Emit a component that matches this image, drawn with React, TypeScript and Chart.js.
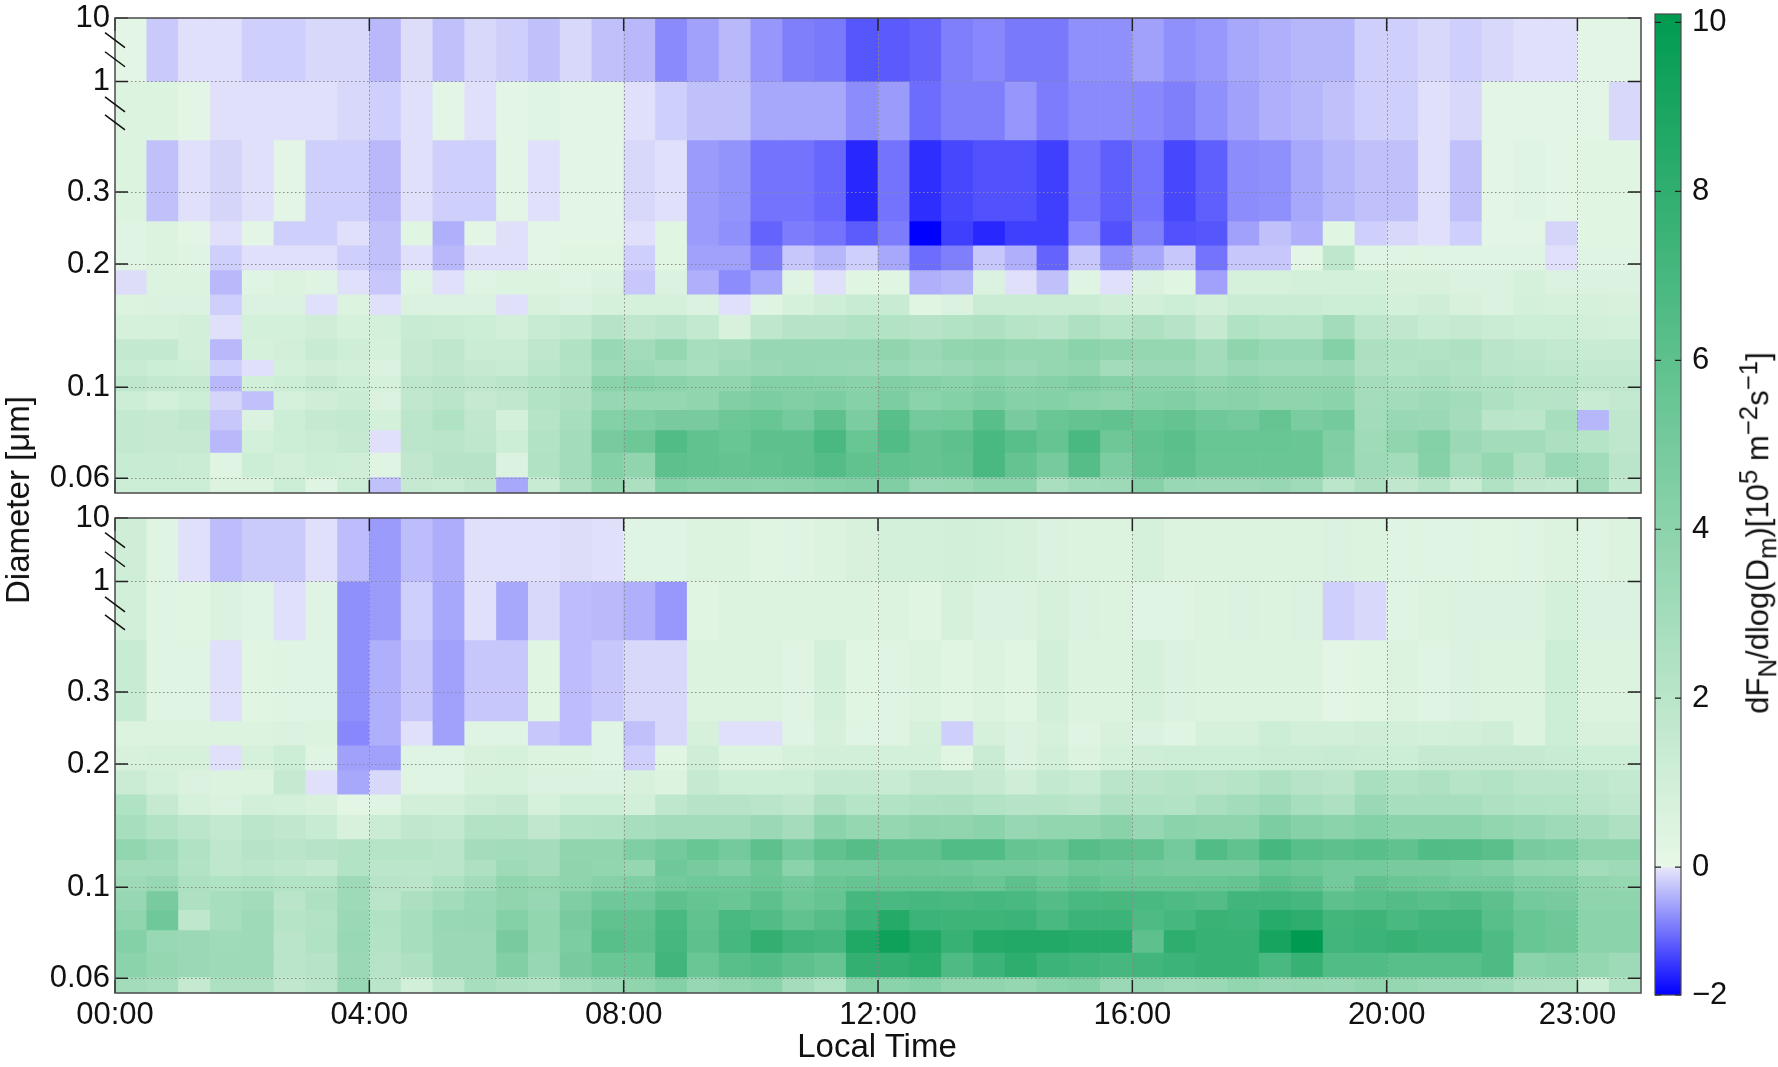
import { useEffect, useRef } from "react";
import Chart from "chart.js/auto";

const FONT = "'Liberation Sans', Arial, Helvetica, sans-serif";
const INK = "#111";

// diameter bin edges [µm], top row first; 0.4–1 and 1–10 µm sit on a broken axis
const DIAM_EDGES = [10, 1, 0.402, 0.255, 0.2225, 0.1936, 0.169, 0.1504, 0.1314, 0.1169, 0.1068, 0.098, 0.0882, 0.0787, 0.0694, 0.0604, 0.0552];
const DIAM_TICKS = [10, 1, 0.3, 0.2, 0.1, 0.06];
const HOUR_TICKS = [0, 4, 8, 12, 16, 20, 23];
const BIN_HOURS = 0.5;
const CBAR_TICKS = [10, 8, 6, 4, 2, 0, -2];
const CBAR_MIN = -2;
const CBAR_MAX = 10.1;

// flux dF/dlogD [1e5 m-2 s-1], one row per diameter bin, 48 half-hour columns
const TOP_PANEL = [
  [0.2, -0.25, -0.05, -0.05, -0.2, -0.2, -0.12, -0.12, -0.4, -0.08, -0.33, -0.12, -0.2, -0.33, -0.12, -0.33,
   -0.4, -0.8, -0.6, -0.4, -0.7, -0.9, -0.95, -1.25, -1.22, -1.13, -0.9, -0.82, -0.95, -0.95, -0.75, -0.75,
   -0.6, -0.75, -0.68, -0.55, -0.48, -0.42, -0.42, -0.2, -0.2, -0.12, -0.2, -0.12, -0.05, -0.05, 0.2, 0.2],
  [0.5, 0.5, 0.2, -0.05, -0.05, -0.05, -0.05, -0.12, -0.2, -0.05, 0.2, -0.05, 0.2, 0.4, 0.2, 0.2,
   -0.05, -0.2, -0.33, -0.33, -0.55, -0.55, -0.55, -0.78, -0.65, -1.05, -0.9, -0.9, -0.7, -0.92, -0.8, -0.8,
   -0.82, -0.9, -0.75, -0.6, -0.48, -0.42, -0.33, -0.2, -0.2, -0.05, -0.12, 0.2, 0.2, 0.2, 0.2, -0.12],
  [0.5, -0.33, -0.05, -0.15, -0.05, 0.2, -0.2, -0.2, -0.4, -0.05, -0.2, -0.2, 0.2, -0.05, 0.2, 0.2,
   -0.12, -0.05, -0.65, -0.72, -1.0, -1.0, -1.1, -1.65, -1.0, -1.6, -1.38, -1.3, -1.3, -1.45, -1.0, -1.17,
   -1.0, -1.38, -1.17, -0.78, -0.75, -0.55, -0.42, -0.33, -0.33, -0.05, -0.33, 0.2, 0.4, 0.2, 0.3, 0.3],
  [0.4, 0.5, 0.2, -0.05, 0.2, -0.2, -0.2, -0.05, -0.33, 0.3, -0.48, 0.2, -0.05, 0.2, 0.2, 0.2,
   -0.05, 0.3, -0.65, -0.75, -1.13, -0.92, -1.0, -1.2, -0.92, -2.0, -1.45, -1.65, -1.45, -1.45, -0.82, -1.3,
   -0.9, -1.3, -1.25, -0.6, -0.33, -0.48, 0.3, -0.2, -0.12, -0.05, -0.2, 0.2, 0.2, -0.15, 0.3, 0.3],
  [0.4, 0.5, 0.4, -0.2, -0.05, -0.05, -0.05, -0.2, -0.33, -0.05, -0.4, -0.05, -0.05, 0.2, 0.3, 0.3,
   -0.2, 0.3, -0.6, -0.6, -0.92, -0.27, -0.42, -0.2, -0.55, -1.05, -0.9, -0.27, -0.48, -1.13, -0.27, -0.75,
   -0.55, -0.27, -1.0, -0.27, -0.27, 0.2, 1.8, 0.4, 0.4, 0.4, 0.4, 0.4, 0.4, -0.05, 0.4, 0.4],
  [-0.08, 0.5, 0.5, -0.4, 0.4, 0.5, 0.4, -0.05, -0.27, 0.4, -0.05, 0.4, 0.5, 0.5, 0.4, 0.6,
   -0.27, 0.6, -0.48, -0.78, -0.55, 0.4, -0.05, 0.3, 0.3, -0.48, -0.42, 0.6, -0.05, -0.33, 0.4, -0.05,
   0.6, 0.3, -0.6, 0.8, 0.8, 0.9, 0.9, 0.9, 0.7, 0.7, 0.6, 0.6, 0.8, 0.6, 0.6, 0.6],
  [0.5, 0.6, 0.6, -0.2, 0.6, 0.6, -0.05, 0.5, -0.05, 0.6, 0.6, 0.6, -0.05, 0.7, 0.6, 0.8,
   0.8, 0.8, 0.6, -0.05, 0.4, 0.8, 1.1, 1.4, 1.4, 0.3, 0.6, 1.3, 1.3, 1.3, 1.3, 1.1,
   1.0, 1.2, 1.0, 1.3, 1.3, 1.3, 1.2, 1.2, 0.9, 1.1, 0.7, 0.6, 0.9, 0.8, 0.8, 0.7],
  [0.8, 0.8, 1.0, -0.05, 0.9, 0.9, 1.1, 0.8, 0.9, 1.4, 1.3, 1.2, 1.0, 1.4, 1.6, 2.1,
   1.8, 2.0, 1.6, 0.7, 1.8, 2.1, 2.1, 2.4, 2.3, 2.1, 2.3, 2.5, 2.2, 2.0, 2.5, 2.2,
   2.5, 2.1, 1.5, 2.4, 2.2, 2.2, 3.0, 1.9, 1.7, 1.4, 1.5, 1.3, 1.2, 1.2, 1.0, 0.9],
  [1.6, 1.6, 1.0, -0.4, 0.8, 1.0, 1.4, 1.1, 0.8, 1.5, 1.8, 1.3, 1.3, 1.8, 2.4, 3.4,
   3.0, 3.6, 2.8, 2.9, 3.5, 3.5, 3.5, 3.5, 3.8, 3.3, 3.7, 3.9, 3.6, 3.6, 4.0, 3.8,
   3.6, 3.6, 3.0, 3.9, 3.4, 3.4, 4.3, 2.6, 2.4, 2.3, 2.5, 2.0, 1.8, 1.6, 1.4, 1.4],
  [1.4, 1.2, 1.1, -0.2, -0.05, 0.9, 1.1, 1.0, 0.6, 1.5, 1.7, 1.5, 1.4, 1.9, 2.3, 3.2,
   3.2, 3.0, 2.7, 3.2, 3.3, 3.5, 3.4, 3.3, 3.4, 3.2, 3.3, 3.6, 3.3, 3.6, 3.7, 3.0,
   3.3, 3.3, 3.0, 3.3, 3.2, 3.2, 3.3, 2.5, 2.3, 2.5, 2.4, 2.0, 1.9, 1.8, 1.6, 1.6],
  [1.8, 1.6, 1.5, -0.4, 1.0, 1.2, 1.5, 1.2, 0.8, 1.8, 2.0, 1.8, 2.0, 2.3, 2.6, 4.0,
   4.2, 4.0, 3.8, 3.8, 4.3, 4.3, 4.2, 4.1, 4.4, 4.2, 4.0, 4.3, 4.0, 4.2, 4.5, 4.2,
   4.0, 4.0, 3.7, 4.0, 3.8, 3.8, 3.8, 2.9, 2.7, 2.8, 2.5, 2.4, 2.2, 2.2, 1.8, 1.8],
  [1.2, 0.9, 1.2, -0.15, -0.33, 0.8, 1.1, 1.3, 0.6, 1.7, 2.0, 1.5, 1.7, 2.3, 2.6, 3.5,
   3.6, 3.6, 3.8, 4.4, 4.6, 4.4, 4.6, 4.2, 4.6, 4.0, 4.3, 4.6, 4.2, 4.3, 4.0, 3.9,
   4.3, 4.4, 4.0, 4.1, 3.9, 3.9, 4.0, 2.9, 3.0, 3.2, 3.0, 2.5, 2.2, 2.1, 1.4, 1.6],
  [1.6, 1.5, 1.7, -0.27, 0.6, 1.2, 1.5, 1.6, 0.9, 1.9, 2.4, 1.7, 0.9, 2.2, 2.8, 4.3,
   4.5, 4.8, 4.8, 5.3, 5.5, 5.0, 6.0, 4.7, 6.2, 5.0, 5.1, 6.2, 4.8, 5.4, 5.7, 5.8,
   5.5, 5.7, 5.2, 5.0, 5.6, 4.7, 5.0, 3.0, 3.4, 3.3, 2.9, 2.0, 1.9, 2.8, -0.42, 1.8],
  [1.6, 1.5, 1.5, -0.4, 0.9, 1.2, 1.3, 1.5, -0.05, 1.9, 2.0, 1.8, 1.2, 2.3, 3.0, 4.8,
   5.3, 6.5, 5.8, 5.5, 6.0, 6.0, 6.8, 5.5, 6.5, 5.7, 6.0, 6.8, 6.2, 5.6, 6.8, 5.3,
   5.8, 6.1, 5.5, 5.5, 5.5, 5.4, 4.5, 3.1, 3.8, 4.3, 3.3, 3.0, 3.0, 2.6, 2.2, 1.8],
  [1.4, 1.4, 1.3, 0.4, 1.2, 1.0, 1.2, 1.1, 0.4, 1.7, 2.1, 2.1, 0.6, 2.4, 3.0, 4.3,
   3.8, 6.0, 5.8, 5.7, 5.8, 6.0, 6.4, 5.8, 5.8, 5.7, 5.8, 6.8, 5.7, 4.9, 6.3, 4.6,
   5.7, 6.0, 5.4, 5.4, 5.4, 5.4, 4.4, 3.2, 3.0, 4.2, 3.0, 3.6, 2.5, 3.4, 3.0, 2.0],
  [1.2, 1.2, 1.2, 0.5, 0.5, 1.2, 0.4, 1.2, -0.33, 1.5, 1.4, 1.7, -0.55, 1.4, 2.5, 3.6,
   2.6, 4.3, 4.0, 4.1, 4.0, 4.1, 4.3, 4.4, 4.5, 3.5, 3.6, 4.0, 4.0, 2.7, 3.1, 3.2,
   4.2, 3.4, 3.3, 3.3, 3.5, 3.1, 1.9, 2.6, 1.7, 2.2, 1.4, 2.4, 1.7, 1.6, 3.0, 1.6],
];

const BOTTOM_PANEL = [
  [1.1, 0.4, -0.05, -0.36, -0.24, -0.24, -0.05, -0.36, -0.65, -0.36, -0.5, -0.05, -0.05, -0.05, -0.08, -0.05,
   0.4, 0.4, 0.5, 0.5, 0.3, 0.4, 0.5, 0.7, 0.9, 0.9, 1.0, 0.9, 0.8, 0.6, 0.5, 0.5,
   0.8, 0.5, 0.5, 0.5, 0.5, 0.5, 0.6, 0.5, 0.4, 0.4, 0.4, 0.3, 0.4, 0.5, 0.4, 0.5],
  [1.0, 0.4, 0.3, 0.6, 0.4, -0.05, 0.4, -0.75, -0.65, -0.2, -0.55, -0.05, -0.55, -0.12, -0.36, -0.38,
   -0.48, -0.68, 0.3, 0.5, 0.5, 0.5, 0.5, 0.5, 0.5, 0.3, 0.8, 0.6, 0.6, 0.8, 0.6, 0.5,
   0.4, 0.4, 0.5, 0.6, 0.5, 0.6, -0.2, -0.12, 0.4, 0.5, 0.6, 0.6, 0.6, 0.9, 0.6, 0.6],
  [1.4, 0.4, 0.4, -0.05, 0.3, 0.4, 0.4, -0.75, -0.48, -0.27, -0.6, -0.27, -0.27, 0.3, -0.36, -0.27,
   -0.12, -0.12, 0.5, 0.5, 0.5, 0.4, 0.9, 0.3, 0.4, 0.5, 0.3, 0.5, 0.3, 1.0, 0.5, 0.5,
   0.8, 0.6, 0.5, 0.5, 0.5, 0.5, 0.2, 0.3, 0.5, 0.4, 0.6, 0.5, 0.5, 1.2, 0.5, 0.5],
  [0.5, 0.5, 0.5, 0.5, 0.5, 0.6, 0.5, -0.82, -0.48, -0.05, -0.6, 0.4, 0.4, -0.27, -0.36, 0.4,
   -0.33, -0.12, 0.8, -0.05, -0.05, 0.4, 0.8, 0.4, 0.4, 0.8, -0.2, 0.8, 0.6, 0.8, 0.4, 0.7,
   0.6, 0.4, 0.8, 0.8, 1.2, 1.0, 1.0, 1.1, 1.0, 0.9, 1.0, 1.1, 0.5, 1.2, 0.7, 0.7],
  [0.7, 0.8, 0.8, -0.05, 0.8, 1.2, 0.4, -0.6, -0.6, 0.4, 0.4, 0.7, 0.8, 0.5, 0.5, 0.4,
   -0.2, 0.3, 1.1, 0.5, 0.5, 0.8, 1.0, 1.0, 0.9, 0.9, 0.3, 1.3, 0.6, 1.0, 0.5, 0.9,
   1.1, 1.2, 1.2, 1.2, 1.3, 1.3, 1.4, 1.3, 1.2, 1.5, 1.5, 1.5, 1.5, 1.4, 1.2, 1.2],
  [1.3, 0.9, 0.6, 0.5, 0.5, 1.5, -0.05, -0.55, -0.12, 0.4, 0.4, 0.8, 0.8, 0.6, 0.6, 0.6,
   0.7, 0.5, 1.5, 1.2, 1.2, 1.2, 1.6, 1.6, 1.4, 1.7, 1.7, 1.5, 1.1, 1.6, 1.4, 2.0,
   2.0, 2.2, 2.0, 2.2, 2.5, 2.1, 2.0, 2.7, 2.3, 2.5, 2.2, 2.3, 2.0, 2.0, 1.8, 1.6],
  [2.4, 1.5, 0.8, 0.6, 1.0, 0.9, 0.7, 0.2, 0.4, 1.0, 1.0, 1.3, 1.5, 0.8, 1.2, 1.2,
   1.0, 1.8, 2.1, 2.1, 2.0, 1.8, 2.6, 2.2, 2.3, 2.5, 2.6, 2.3, 2.1, 2.2, 2.0, 2.5,
   2.4, 2.3, 2.7, 3.0, 3.3, 2.8, 2.5, 3.3, 2.8, 2.8, 2.8, 2.5, 2.4, 2.3, 2.0, 1.8],
  [2.8, 2.3, 1.9, 1.6, 1.9, 1.7, 1.4, 0.7, 1.3, 1.7, 1.6, 2.3, 2.3, 1.7, 2.3, 2.4,
   2.8, 3.0, 3.0, 3.0, 3.3, 2.9, 4.0, 3.6, 3.6, 3.9, 3.8, 4.0, 3.5, 3.7, 3.7, 4.1,
   3.5, 4.0, 3.9, 3.9, 4.6, 4.2, 4.0, 4.3, 4.0, 4.0, 4.0, 3.7, 3.5, 3.2, 2.9, 2.5],
  [3.7, 3.2, 2.4, 1.8, 2.1, 2.0, 2.1, 2.3, 2.2, 2.2, 2.0, 2.9, 3.0, 2.9, 3.8, 3.8,
   4.5, 5.0, 5.5, 5.0, 6.0, 5.0, 5.8, 6.3, 5.8, 5.8, 6.5, 6.5, 5.6, 5.4, 6.3, 6.0,
   5.8, 5.0, 6.5, 5.8, 7.0, 6.2, 6.0, 6.2, 5.8, 6.5, 6.4, 6.1, 4.8, 4.6, 3.9, 3.9],
  [3.0, 3.0, 2.3, 1.8, 1.9, 1.8, 1.6, 2.3, 1.9, 1.9, 2.0, 2.5, 3.2, 2.9, 3.9, 3.7,
   3.6, 5.2, 4.8, 4.5, 5.3, 4.0, 5.0, 5.0, 5.3, 5.3, 5.2, 5.0, 5.0, 4.8, 5.3, 5.2,
   5.0, 4.8, 4.8, 4.8, 5.5, 5.3, 5.0, 5.0, 4.8, 4.8, 4.6, 4.4, 3.8, 3.7, 3.0, 3.2],
  [3.2, 3.5, 2.6, 2.4, 2.5, 2.3, 2.3, 3.2, 2.1, 2.0, 2.5, 3.0, 3.8, 3.6, 3.9, 4.2,
   4.5, 5.0, 5.2, 5.2, 5.4, 5.0, 5.4, 5.6, 5.6, 5.6, 5.6, 5.4, 6.0, 5.4, 5.8, 5.5,
   5.4, 5.4, 5.5, 5.6, 6.2, 5.8, 5.0, 5.8, 5.4, 5.3, 5.0, 5.0, 4.5, 4.4, 3.8, 3.6],
  [3.5, 4.8, 2.5, 2.8, 3.0, 2.0, 2.5, 3.2, 2.0, 2.6, 3.0, 3.4, 3.8, 3.5, 4.5, 5.2,
   5.2, 6.0, 5.6, 5.4, 6.0, 5.3, 5.6, 7.0, 6.8, 7.0, 6.8, 7.0, 6.8, 6.4, 6.8, 6.9,
   6.8, 6.6, 6.4, 7.2, 7.2, 7.0, 6.0, 6.2, 6.4, 6.2, 6.4, 6.0, 5.0, 4.8, 3.9, 3.9],
  [3.8, 5.2, 1.8, 2.8, 3.2, 2.2, 2.3, 3.3, 2.4, 2.8, 3.4, 3.5, 4.3, 3.7, 4.8, 5.8,
   5.8, 6.8, 5.8, 6.8, 6.5, 5.8, 6.3, 7.4, 8.4, 7.4, 7.3, 7.3, 7.4, 6.8, 7.4, 7.4,
   6.6, 7.0, 7.5, 7.4, 8.3, 8.0, 7.1, 7.3, 6.8, 7.2, 7.2, 6.2, 5.5, 5.2, 4.0, 4.0],
  [4.3, 3.4, 3.3, 3.1, 3.2, 2.0, 2.4, 3.4, 2.3, 2.8, 3.3, 3.3, 4.8, 3.7, 4.6, 6.2,
   6.0, 7.0, 6.0, 7.0, 7.8, 7.2, 7.0, 8.6, 9.4, 8.6, 7.6, 8.4, 8.5, 8.5, 8.3, 8.3,
   6.0, 8.0, 7.6, 7.6, 9.0, 10.0, 7.2, 7.4, 7.6, 7.4, 7.4, 6.6, 5.5, 5.3, 4.0, 4.0],
  [4.0, 3.6, 3.3, 3.2, 3.2, 2.0, 2.1, 3.3, 2.1, 2.5, 3.3, 3.3, 4.4, 3.5, 4.8, 5.4,
   5.4, 7.2, 5.4, 6.2, 6.5, 6.0, 5.6, 7.8, 7.8, 8.2, 6.6, 7.4, 8.0, 7.4, 7.2, 7.0,
   7.2, 7.4, 7.6, 7.6, 6.8, 7.6, 6.5, 6.5, 6.2, 6.2, 6.2, 6.6, 4.0, 4.2, 3.6, 3.2],
  [3.0, 2.8, 1.5, 2.5, 2.5, 1.7, 2.0, 3.5, 2.0, 1.0, 1.8, 2.8, 2.5, 2.3, 3.0, 3.3,
   3.8, 4.3, 3.5, 3.8, 4.0, 2.9, 2.4, 4.2, 4.0, 4.3, 3.8, 3.8, 3.6, 4.0, 4.2, 3.3,
   3.5, 3.2, 3.3, 3.7, 3.5, 3.6, 3.5, 3.8, 3.6, 3.3, 3.3, 3.1, 2.6, 2.5, 1.2, 2.3],
];

// broken y axis: log below 0.402 µm, then compressed stretches for 0.4–1 and 1–10 µm
const BREAK_LO = 0.402;
const SEG_SUB = 0.143;
const SEG_COARSE = 0.155;
function axisPos(d: number) {
  const l = Math.log10(d);
  const l0 = Math.log10(BREAK_LO);
  if (d <= BREAK_LO) return l;
  if (d <= 1) return l0 + ((l - l0) / -l0) * SEG_SUB;
  return l0 + SEG_SUB + l * SEG_COARSE;
}

// colormap: white-blue below zero, white-green above
const NEG_LIGHT = [230, 230, 250];
const NEG_DEEP = [0, 0, 255];
const POS_LIGHT = [232, 248, 232];
const POS_DEEP = [0, 155, 80];
const NEG_STRETCH = 0.757; // colorbar gives the negative half less height

function mix(a: number[], b: number[], t: number) {
  const c = a.map((v, i) => Math.round(v + (b[i] - v) * t));
  return `rgb(${c[0]},${c[1]},${c[2]})`;
}
function fluxColor(v: number) {
  if (v >= 0) return mix(POS_LIGHT, POS_DEEP, Math.min(v / 10, 1));
  return mix(NEG_LIGHT, NEG_DEEP, Math.min(-v / 2, 1));
}
const cbarPos = (v: number) => (v >= 0 ? v : v * NEG_STRETCH);

const PANEL_W = 1650;
const TICK = 13;

const panelDecor = (showTime: boolean) => ({
  id: "panelDecor",
  afterDatasetsDraw(chart: any) {
    const { ctx, chartArea: a } = chart;
    const sx = chart.scales.x;
    const sy = chart.scales.y;
    const py = (d: number) => sy.getPixelForValue(axisPos(d));
    const px = (h: number) => sx.getPixelForValue(h);
    ctx.save();

    // dotted grid over the cells
    ctx.strokeStyle = "#8a8a8a";
    ctx.lineWidth = 1;
    ctx.setLineDash([1.5, 2.5]);
    ctx.beginPath();
    DIAM_TICKS.filter((d) => d < 10).forEach((d) => {
      const y = Math.round(py(d)) + 0.5;
      ctx.moveTo(a.left, y);
      ctx.lineTo(a.right, y);
    });
    HOUR_TICKS.filter((h) => h > 0).forEach((h) => {
      const x = Math.round(px(h)) + 0.5;
      ctx.moveTo(x, a.top);
      ctx.lineTo(x, a.bottom);
    });
    ctx.stroke();
    ctx.setLineDash([]);

    // inward ticks on all four sides
    ctx.strokeStyle = "#222";
    ctx.lineWidth = 1.5;
    ctx.beginPath();
    DIAM_TICKS.forEach((d) => {
      const y = py(d);
      ctx.moveTo(a.left, y);
      ctx.lineTo(a.left + TICK, y);
      ctx.moveTo(a.right, y);
      ctx.lineTo(a.right - TICK, y);
    });
    HOUR_TICKS.forEach((h) => {
      const x = px(h);
      ctx.moveTo(x, a.top);
      ctx.lineTo(x, a.top + TICK);
      ctx.moveTo(x, a.bottom);
      ctx.lineTo(x, a.bottom - TICK);
    });
    ctx.stroke();

    ctx.strokeStyle = "#4a4a4a";
    ctx.lineWidth = 1.5;
    ctx.strokeRect(a.left, a.top, a.right - a.left, a.bottom - a.top);

    // axis-break marks
    const y10 = py(10);
    const y1 = py(1);
    const yb = py(BREAK_LO);
    ctx.strokeStyle = "#111";
    [y10 + 0.35 * (y1 - y10), y10 + 0.65 * (y1 - y10), y1 + 0.39 * (yb - y1), y1 + 0.7 * (yb - y1)].forEach((yc) => {
      ctx.beginPath();
      ctx.moveTo(a.left - 10, yc - 7.5);
      ctx.lineTo(a.left + 10, yc + 7.5);
      ctx.stroke();
    });

    ctx.fillStyle = INK;
    ctx.font = `31px ${FONT}`;
    ctx.textAlign = "right";
    ctx.textBaseline = "middle";
    DIAM_TICKS.forEach((d) => ctx.fillText(String(d), a.left - 5, py(d)));
    if (showTime) {
      ctx.textAlign = "center";
      HOUR_TICKS.forEach((h) => ctx.fillText(`${String(h).padStart(2, "0")}:00`, px(h), a.bottom + 22));
    }
    ctx.restore();
  },
});

function FluxPanel({ rows, top, height, padTop, padBottom, showTime }: {
  rows: number[][]; top: number; height: number; padTop: number; padBottom: number; showTime: boolean;
}) {
  const ref = useRef<HTMLCanvasElement>(null);
  useEffect(() => {
    if (!ref.current) return;
    const chart = new Chart(ref.current, {
      type: "bar",
      data: {
        datasets: rows.map((vals, r) => ({
          data: vals.map((_, c) => ({ x: (c + 0.5) * BIN_HOURS, y: [axisPos(DIAM_EDGES[r + 1]), axisPos(DIAM_EDGES[r])] })),
          backgroundColor: vals.map(fluxColor),
          borderWidth: 0,
          grouped: false,
          barPercentage: 1,
          categoryPercentage: 1,
        })),
      } as any,
      options: {
        animation: false,
        responsive: false,
        devicePixelRatio: 1,
        layout: { padding: { left: 115, right: PANEL_W - 1641, top: padTop, bottom: padBottom } },
        plugins: { legend: { display: false }, tooltip: { enabled: false } },
        scales: {
          x: { type: "linear", min: 0, max: 24, offset: false, display: false, ticks: { stepSize: 4 } },
          y: { type: "linear", min: axisPos(DIAM_EDGES[DIAM_EDGES.length - 1]), max: axisPos(10), display: false },
        },
      },
      plugins: [panelDecor(showTime)],
    });
    return () => chart.destroy();
  }, [rows, showTime]);
  return <canvas ref={ref} width={PANEL_W} height={height} style={{ position: "absolute", left: 0, top, display: "block" }} />;
}

const cbarDecor = {
  id: "cbarDecor",
  afterDatasetsDraw(chart: any) {
    const { ctx, chartArea: a } = chart;
    const sy = chart.scales.y;
    ctx.save();
    ctx.strokeStyle = "#4a4a4a";
    ctx.lineWidth = 1.2;
    ctx.strokeRect(a.left, a.top, a.right - a.left, a.bottom - a.top);
    ctx.strokeStyle = "#222";
    ctx.beginPath();
    CBAR_TICKS.forEach((v) => {
      const y = sy.getPixelForValue(cbarPos(v));
      ctx.moveTo(a.left, y);
      ctx.lineTo(a.left + 6, y);
      ctx.moveTo(a.right, y);
      ctx.lineTo(a.right - 6, y);
    });
    ctx.stroke();
    ctx.fillStyle = INK;
    ctx.font = `31px ${FONT}`;
    ctx.textAlign = "left";
    ctx.textBaseline = "middle";
    CBAR_TICKS.forEach((v) => ctx.fillText(v < 0 ? `\u2212${-v}` : String(v), a.right + 11, sy.getPixelForValue(cbarPos(v))));
    ctx.restore();
  },
};

function ColorBar() {
  const ref = useRef<HTMLCanvasElement>(null);
  useEffect(() => {
    if (!ref.current) return;
    const lo = cbarPos(CBAR_MIN);
    const hi = cbarPos(CBAR_MAX);
    const chart = new Chart(ref.current, {
      type: "bar",
      data: {
        labels: ["flux"],
        datasets: [{
          data: [[lo, hi]],
          borderWidth: 0,
          barPercentage: 1,
          categoryPercentage: 1,
          backgroundColor: (c: any) => {
            const area = c.chart.chartArea;
            if (!area) return "#ccc";
            const g = c.chart.ctx.createLinearGradient(0, area.bottom, 0, area.top);
            const f = (v: number) => (cbarPos(v) - lo) / (hi - lo);
            g.addColorStop(0, fluxColor(CBAR_MIN));
            g.addColorStop(f(0) - 0.0005, fluxColor(-0.0001));
            g.addColorStop(f(0), fluxColor(0));
            g.addColorStop(1, fluxColor(CBAR_MAX));
            return g;
          },
        }],
      } as any,
      options: {
        animation: false,
        responsive: false,
        devicePixelRatio: 1,
        layout: { padding: { left: 15, right: 97, top: 14, bottom: 72 } },
        plugins: { legend: { display: false }, tooltip: { enabled: false } },
        scales: {
          x: { display: false },
          y: { type: "linear", min: lo, max: hi, display: false },
        },
      },
      plugins: [cbarDecor],
    });
    return () => chart.destroy();
  }, []);
  return <canvas ref={ref} width={138} height={1067} style={{ position: "absolute", left: 1640, top: 0, display: "block" }} />;
}

const rotated = (x: number, y: number): React.CSSProperties => ({
  position: "absolute",
  left: x,
  top: y,
  transform: "translate(-50%, -50%) rotate(-90deg)",
  whiteSpace: "nowrap",
});

export default function App() {
  return (
    <div style={{ position: "absolute", left: 0, top: 0, width: 1778, height: 1067, background: "#fff", overflow: "hidden", fontFamily: FONT, color: INK }}>
      <FluxPanel rows={TOP_PANEL} top={0} height={505} padTop={18} padBottom={12} showTime={false} />
      <FluxPanel rows={BOTTOM_PANEL} top={505} height={562} padTop={13} padBottom={74} showTime />
      <ColorBar />
      <div style={{ ...rotated(18, 500), fontSize: 33 }}>Diameter [μm]</div>
      <div style={{ position: "absolute", left: 877, top: 1046, transform: "translate(-50%, -50%)", fontSize: 33, whiteSpace: "nowrap" }}>Local Time</div>
      <div style={{ ...rotated(1758, 533), fontSize: 31 }}>
        dF<sub>N</sub>/dlog(D<sub>m</sub>)[10<sup>5</sup> m<sup>−2</sup>s<sup>−1</sup>]
      </div>
    </div>
  );
}
